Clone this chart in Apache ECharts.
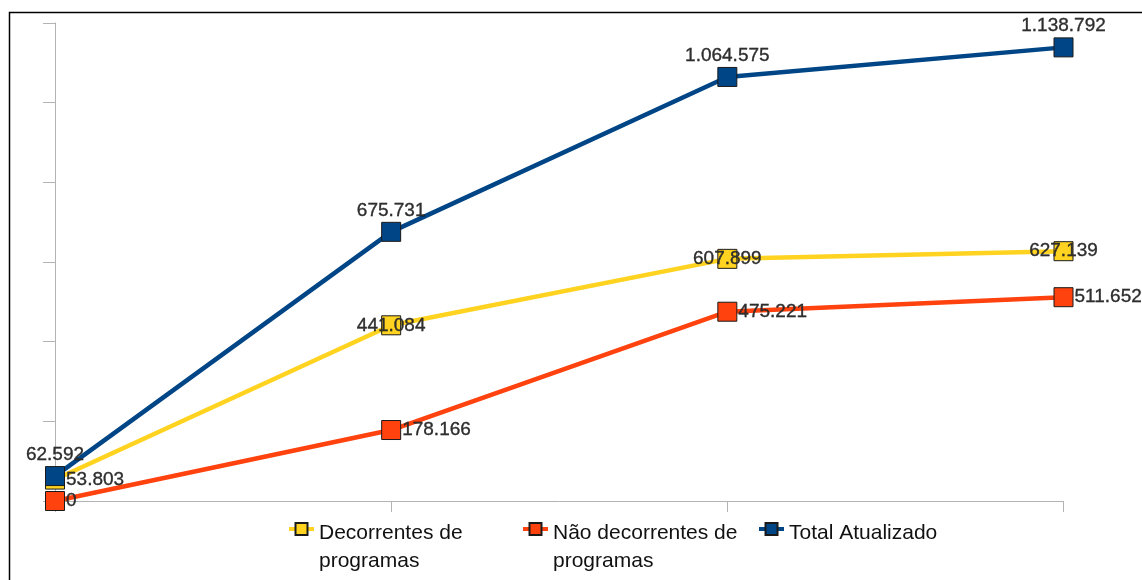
<!DOCTYPE html>
<html>
<head>
<meta charset="utf-8">
<script src="https://cdn.jsdelivr.net/npm/echarts@6/dist/echarts.min.js"></script>
<style>
html,body{margin:0;padding:0;background:#fff;}
#chart{width:1142px;height:580px;}
</style>
</head>
<body>
<div id="chart"></div>
<script>
const categories = ['1', '2', '3', '4'];
const seriesNames = ['Decorrentes de programas', 'Não decorrentes de programas', 'Total Atualizado'];
const legendLines = [['Decorrentes de', 'programas'], ['Não decorrentes de', 'programas'], ['Total Atualizado', ' ']];
const decorrentes = [53803, 441084, 607899, 627139];
const naoDecorrentes = [0, 178166, 475221, 511652];
const totalAtualizado = [62592, 675731, 1064575, 1138792];
const yMax = 1200000;
const yInterval = 200000;

function fmt(v) {
  return String(v).replace(/\B(?=(\d{3})+(?!\d))/g, '.');
}

const colors = ['#ffd320', '#ff420e', '#004586'];
const font = 'Liberation Sans, Arial, sans-serif';

const labelBase = {
  show: true,
  fontFamily: font,
  fontSize: 19,
  color: '#2e2e2e',
  textBorderColor: '#000',
  textBorderWidth: 0.3,
  formatter: p => fmt(p.value)
};

function mkSeries(idx, data, labelOpt, perPoint) {
  return {
    name: seriesNames[idx],
    type: 'line',
    data: data.map((v, i) => perPoint && perPoint[i] ? { value: v, label: perPoint[i] } : v),
    symbol: 'rect',
    symbolSize: 19,
    showAllSymbol: true,
    color: colors[idx],
    lineStyle: { width: 4.5, color: colors[idx] },
    itemStyle: { color: colors[idx], borderColor: '#1a1a1a', borderWidth: 1 },
    label: Object.assign({}, labelBase, labelOpt),
    emphasis: { disabled: true },
    animation: false
  };
}

const legendText = {
  fontFamily: font,
  fontSize: 21,
  color: '#111',
  rich: {
    s: { fontFamily: font, fontSize: 21, lineHeight: 36, color: '#111' },
    a: { fontFamily: font, fontSize: 21, lineHeight: 28, color: '#111' }
  }
};

function mkLegend(idx, left, top) {
  return {
    data: [seriesNames[idx]],
    left: left,
    top: top,
    padding: 0,
    itemWidth: 25,
    itemHeight: 15,
    lineStyle: { width: 4 },
    formatter: () => '{s| }\n{a|' + legendLines[idx][0] + '}\n{a|' + legendLines[idx][1] + '}',
    textStyle: legendText,
    selectedMode: false
  };
}

const chart = echarts.init(document.getElementById('chart'));
chart.setOption({
  backgroundColor: '#fff',
  animation: false,
  grid: { left: 55, right: 78.5, top: 23, bottom: 79, containLabel: false },
  xAxis: {
    type: 'category',
    data: categories,
    boundaryGap: false,
    axisLine: { lineStyle: { color: '#b3b3b3', width: 1 } },
    axisTick: { show: true, length: 11, alignWithLabel: true, lineStyle: { color: '#b3b3b3' } },
    axisLabel: { show: false },
    splitLine: { show: false }
  },
  yAxis: {
    type: 'value',
    min: 0,
    max: yMax,
    interval: yInterval,
    axisLine: { show: true, lineStyle: { color: '#b3b3b3', width: 1 } },
    axisTick: { show: true, length: 12, lineStyle: { color: '#b3b3b3' } },
    axisLabel: { show: false },
    splitLine: { show: false }
  },
  legend: [
    mkLegend(0, 287, 490.5),
    mkLegend(1, 521, 490.5),
    mkLegend(2, 757, 490.5)
  ],
  graphic: [{
    type: 'rect',
    shape: { x: 9.5, y: 12.5, width: 1400, height: 800 },
    style: { fill: 'none', stroke: '#000', lineWidth: 1.5 },
    silent: true,
    z: 100
  }],
  series: [
    mkSeries(0, decorrentes, { position: 'inside' }, [{ position: 'right', distance: 1 }]),
    mkSeries(1, naoDecorrentes, { position: 'right', distance: 1 }),
    mkSeries(2, totalAtualizado, { position: 'top', distance: 2 })
  ]
});
</script>
</body>
</html>
